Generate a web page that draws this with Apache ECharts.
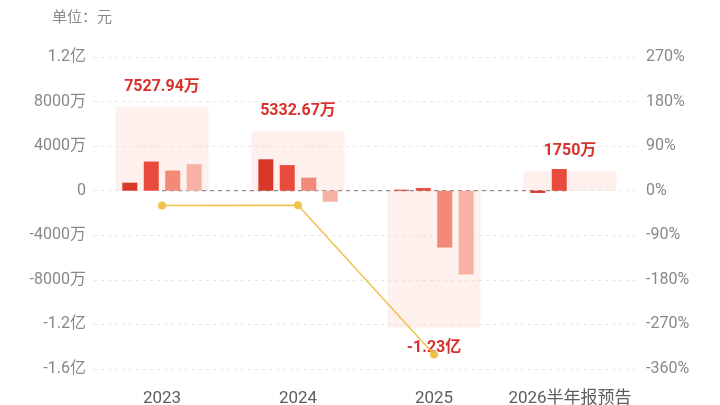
<!DOCTYPE html>
<html>
<head>
<meta charset="utf-8">
<script src="https://cdn.jsdelivr.net/npm/echarts@6/dist/echarts.min.js"></script>
<style>
html, body { margin: 0; padding: 0; background: #fff; }
#main { width: 720px; height: 405px; }
</style>
</head>
<body>
<div id="main"></div>
<script>
// 年份
var categories = ['2023', '2024', '2025', '2026半年报预告'];
// 全年净利润（万元）
var totalValues = [7527.94, 5332.67, -12300, 1750];
var totalLabels = ['7527.94万', '5332.67万', '-1.23亿', '1750万'];
// 各季度（万元）
var q1Values = [720, 2820, 90, -200];
var q2Values = [2620, 2300, 240, 1950];
var q3Values = [1810, 1170, -5100, null];
var q4Values = [2380, -990, -7530, null];
// 同比（%）
var yoyValues = [-30, -29.16, -330.66, null];

var font = 'Roboto, "Noto Sans CJK SC", sans-serif';
var quarterColors = ['#d9372a', '#e94b3c', '#f28a77', '#f8b2a3'];

function fmtLeft(v) {
    if (v === 0) return '0';
    if (Math.abs(v) >= 10000) return (v / 10000) + '亿';
    return v + '万';
}

var chart = echarts.init(document.getElementById('main'));

var quarterSeries = [q1Values, q2Values, q3Values, q4Values].map(function (d, i) {
    return {
        type: 'bar',
        xAxisIndex: 0,
        yAxisIndex: 0,
        data: d,
        barWidth: 15,
        barGap: '43%',
        z: 3,
        itemStyle: { color: quarterColors[i] }
    };
});

var option = {
    animation: false,
    textStyle: { fontFamily: font },
    graphic: [{
        type: 'text',
        left: 52,
        top: 11,
        style: { text: '单位：元', fill: '#8a8a8a', fontSize: 15, fontFamily: font }
    }],
    grid: { left: 94, right: 82, top: 57, bottom: 36, outerBoundsMode: 'none', containLabel: false },
    xAxis: [{
        type: 'category',
        data: categories,
        axisLine: { show: false },
        axisTick: { show: false },
        axisLabel: { color: '#5e5e5e', fontSize: 17, margin: 21, interval: 0, fontFamily: font }
    }, {
        type: 'category',
        data: categories,
        show: false
    }],
    yAxis: [{
        type: 'value',
        min: -16000,
        max: 12000,
        interval: 4000,
        axisLine: { show: false },
        axisTick: { show: false },
        axisLabel: { color: '#888', fontSize: 16, margin: 8, formatter: fmtLeft },
        splitLine: { lineStyle: { color: '#e6e6e6', type: [3, 4] } }
    }, {
        type: 'value',
        min: -360,
        max: 270,
        interval: 90,
        axisLine: { show: false },
        axisTick: { show: false },
        axisLabel: { color: '#888', fontSize: 16, margin: 8, formatter: '{value}%' },
        splitLine: { show: false }
    }],
    series: [{
        type: 'bar',
        xAxisIndex: 1,
        yAxisIndex: 0,
        data: totalValues,
        barWidth: 93,
        z: 1,
        itemStyle: { color: 'rgba(250, 200, 185, 0.28)' },
        label: {
            show: true,
            position: 'outside',
            distance: 12,
            color: '#d8302a',
            fontWeight: 'bold',
            fontSize: 16,
            formatter: function (p) { return totalLabels[p.dataIndex]; }
        }
    }].concat(quarterSeries).concat([{
        type: 'line',
        xAxisIndex: 0,
        yAxisIndex: 1,
        data: yoyValues,
        z: 5,
        symbol: 'circle',
        symbolSize: 8,
        lineStyle: { color: '#f0c24c', width: 1.5 },
        itemStyle: { color: '#f0c24c' }
    }, {
        type: 'line',
        xAxisIndex: 0,
        yAxisIndex: 0,
        data: [0, 0, 0, 0],
        symbol: 'none',
        z: 2,
        silent: true,
        lineStyle: { color: '#777', width: 1, type: [4, 4] }
    }])
};

chart.setOption(option);
</script>
</body>
</html>
